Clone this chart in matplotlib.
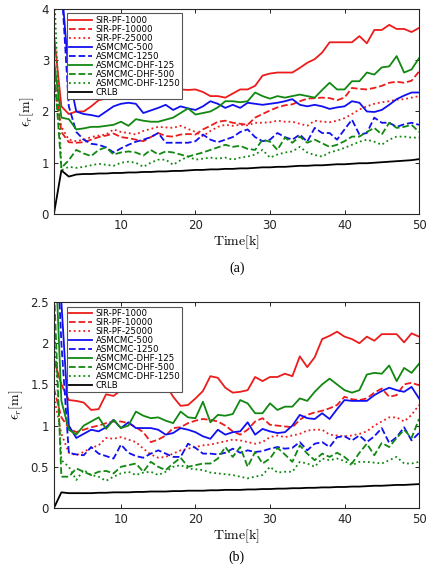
import matplotlib
matplotlib.use("Agg")
import matplotlib.pyplot as plt

plt.rcParams["mathtext.fontset"] = "cm"
plt.rcParams["font.family"] = "DejaVu Sans"

time_k = list(range(1, 51))

labels = ["SIR-PF-1000", "SIR-PF-10000", "SIR-PF-25000",
          "ASMCMC-500", "ASMCMC-1250",
          "ASMCMC-DHF-125", "ASMCMC-DHF-500", "ASMCMC-DHF-1250", "CRLB"]

# ---- panel (a) ----
sir1000_a = [3.5, 2.1, 1.95, 2.0, 2.0, 2.1, 2.22, 2.25, 2.3, 2.35,
             2.35, 2.43, 2.4, 2.38, 2.33, 2.3, 2.27, 2.43, 2.42, 2.43,
             2.38, 2.3, 2.3, 2.27, 2.35, 2.43, 2.43, 2.5, 2.7, 2.74,
             2.76, 2.76, 2.76, 2.85, 2.95, 3.02, 3.15, 3.35, 3.35, 3.35,
             3.35, 3.47, 3.33, 3.59, 3.59, 3.69, 3.61, 3.61, 3.55, 3.63]
sir10000_a = [2.7, 1.6, 1.4, 1.39, 1.4, 1.45, 1.5, 1.53, 1.57, 1.5,
              1.48, 1.45, 1.42, 1.5, 1.58, 1.52, 1.51, 1.55, 1.56, 1.55,
              1.65, 1.72, 1.8, 1.82, 1.78, 1.76, 1.74, 1.88, 1.95, 2.02,
              2.08, 2.12, 2.14, 2.2, 2.25, 2.26, 2.27, 2.26, 2.22, 2.27,
              2.46, 2.44, 2.43, 2.46, 2.5, 2.56, 2.58, 2.56, 2.6, 2.78]
sir25000_a = [2.5, 1.7, 1.45, 1.42, 1.45, 1.5, 1.53, 1.55, 1.65, 1.6,
              1.58, 1.55, 1.62, 1.66, 1.7, 1.69, 1.68, 1.72, 1.66, 1.6,
              1.52, 1.62, 1.7, 1.74, 1.72, 1.74, 1.73, 1.78, 1.78, 1.79,
              1.82, 1.8, 1.8, 1.76, 1.72, 1.82, 1.8, 1.79, 1.82, 1.87,
              1.95, 2.04, 2.1, 2.15, 2.18, 2.2, 2.23, 2.24, 2.27, 2.3]
asm500_a = [6.0, 4.5, 2.7, 2.0, 1.95, 1.93, 1.9, 2.0, 2.1, 2.15,
            2.17, 2.15, 1.97, 2.02, 2.07, 2.13, 2.03, 2.1, 2.06, 2.03,
            2.1, 2.2, 2.15, 2.07, 2.13, 2.07, 2.17, 2.15, 2.13, 2.15,
            2.17, 2.2, 2.24, 2.13, 2.1, 2.13, 2.1, 2.05, 2.08, 2.1,
            2.2, 2.17, 2.0, 1.99, 2.03, 2.13, 2.24, 2.31, 2.37, 2.37]
asm1250_a = [7.0, 4.5, 2.1, 1.6, 1.45, 1.37, 1.35, 1.3, 1.2, 1.28,
             1.35, 1.41, 1.45, 1.5, 1.58, 1.39, 1.39, 1.39, 1.39, 1.42,
             1.55, 1.45, 1.4, 1.45, 1.5, 1.6, 1.65, 1.5, 1.42, 1.45,
             1.58, 1.5, 1.45, 1.55, 1.41, 1.68, 1.58, 1.58, 1.45, 1.65,
             1.84, 1.55, 1.58, 1.88, 1.78, 1.78, 1.7, 1.75, 1.78, 1.74]
dhf125_a = [3.0, 1.88, 1.85, 1.65, 1.67, 1.7, 1.7, 1.72, 1.74, 1.8,
            1.72, 1.85, 1.82, 1.8, 1.8, 1.84, 1.88, 1.97, 2.06, 1.94,
            1.97, 2.0, 2.08, 2.2, 2.2, 2.18, 2.2, 2.37, 2.3, 2.25,
            2.3, 2.27, 2.3, 2.33, 2.3, 2.27, 2.42, 2.56, 2.43, 2.43,
            2.59, 2.59, 2.76, 2.72, 2.86, 2.88, 3.08, 2.76, 2.82, 3.04]
dhf500_a = [2.9, 0.9, 1.05, 1.25, 1.18, 1.13, 1.25, 1.3, 1.16, 1.2,
            1.22, 1.2, 1.14, 1.25, 1.16, 1.22, 1.2, 1.16, 1.12, 1.16,
            1.2, 1.25, 1.3, 1.35, 1.31, 1.33, 1.27, 1.25, 1.45, 1.41,
            1.25, 1.49, 1.39, 1.51, 1.39, 1.45, 1.38, 1.31, 1.35, 1.42,
            1.51, 1.51, 1.6, 1.68, 1.55, 1.78, 1.68, 1.7, 1.74, 1.6]
dhf1250_a = [4.5, 0.85, 0.92, 0.9, 0.92, 0.95, 0.98, 0.96, 0.94, 1.0,
             1.02, 1.0, 0.92, 1.0, 1.06, 1.06, 0.96, 1.05, 1.12, 1.06,
             1.08, 1.1, 1.08, 1.1, 1.06, 1.1, 1.12, 1.16, 1.25, 1.1,
             1.16, 1.2, 1.22, 1.31, 1.2, 1.15, 1.12, 1.2, 1.24, 1.29,
             1.35, 1.41, 1.45, 1.41, 1.35, 1.45, 1.51, 1.51, 1.49, 1.49]
crlb_a = [0.0, 0.85, 0.73, 0.77, 0.78, 0.78, 0.79, 0.79, 0.80, 0.80,
          0.81, 0.81, 0.82, 0.82, 0.83, 0.83, 0.84, 0.84, 0.85, 0.86,
          0.86, 0.87, 0.87, 0.88, 0.88, 0.89, 0.89, 0.90, 0.91, 0.91,
          0.92, 0.92, 0.93, 0.94, 0.94, 0.95, 0.95, 0.96, 0.97, 0.97,
          0.98, 0.99, 0.99, 1.00, 1.01, 1.02, 1.03, 1.04, 1.05, 1.07]

# ---- panel (b) ----
sir1000_b = [1.8, 1.5, 1.31, 1.3, 1.28, 1.19, 1.2, 1.38, 1.36, 1.43,
             1.44, 1.52, 1.48, 1.55, 1.55, 1.5, 1.35, 1.24, 1.25, 1.33,
             1.42, 1.6, 1.58, 1.46, 1.4, 1.41, 1.43, 1.59, 1.54, 1.59,
             1.59, 1.63, 1.6, 1.84, 1.71, 1.83, 2.05, 2.09, 2.14, 2.08,
             2.05, 2.0, 2.08, 2.03, 2.11, 2.11, 2.11, 2.01, 2.12, 2.08]
sir10000_b = [1.45, 1.1, 0.97, 0.92, 0.95, 0.98, 1.0, 1.03, 1.05, 1.05,
              1.03, 0.98, 0.92, 0.8, 0.83, 0.88, 0.97, 0.98, 1.03, 1.06,
              1.08, 1.07, 1.05, 1.0, 0.93, 0.89, 0.95, 1.05, 1.09, 1.01,
              1.0, 0.99, 0.98, 1.07, 1.13, 1.16, 1.18, 1.21, 1.25, 1.35,
              1.32, 1.31, 1.33, 1.4, 1.45, 1.35, 1.37, 1.5, 1.52, 1.49]
sir25000_b = [1.35, 0.9, 0.67, 0.64, 0.68, 0.73, 0.76, 0.85, 0.84, 0.86,
              0.83, 0.8, 0.72, 0.65, 0.61, 0.62, 0.66, 0.7, 0.72, 0.74,
              0.76, 0.77, 0.79, 0.81, 0.83, 0.82, 0.8, 0.78, 0.8, 0.86,
              0.88, 0.86, 0.88, 0.9, 0.94, 0.95, 0.95, 0.89, 0.88, 0.87,
              0.88, 0.9, 0.93, 1.0, 1.05, 1.1, 1.1, 1.05, 1.13, 1.25]
asm500_b = [4.0, 2.5, 1.0, 0.85, 0.9, 0.95, 0.93, 0.98, 1.07, 0.97,
            1.04, 0.97, 0.97, 0.97, 0.95, 0.89, 0.91, 0.97, 0.95, 0.92,
            0.87, 0.84, 0.95, 0.89, 0.92, 0.93, 1.04, 0.89, 0.96, 0.93,
            0.91, 0.92, 1.0, 1.13, 1.09, 1.08, 1.15, 1.08, 1.2, 1.31,
            1.3, 1.3, 1.3, 1.37, 1.42, 1.46, 1.43, 1.41, 1.47, 1.33]
asm1250_b = [4.0, 2.0, 0.67, 0.65, 0.64, 0.74, 0.66, 0.63, 0.6, 0.77,
             0.67, 0.63, 0.61, 0.66, 0.7, 0.66, 0.62, 0.62, 0.78, 0.73,
             0.66, 0.66, 0.65, 0.67, 0.72, 0.67, 0.7, 0.68, 0.69, 0.72,
             0.74, 0.72, 0.73, 0.8, 0.7, 0.78, 0.8, 0.74, 0.86, 0.87,
             0.82, 0.88, 0.8, 0.87, 0.97, 0.79, 0.86, 0.98, 0.82, 0.91]
dhf125_b = [3.5, 1.3, 0.95, 0.89, 1.0, 1.05, 1.1, 0.96, 1.07, 0.97,
            1.0, 1.17, 1.12, 1.09, 1.1, 1.06, 1.03, 1.17, 1.1, 1.09,
            1.29, 1.04, 1.13, 1.12, 1.14, 1.31, 1.27, 1.15, 1.15, 1.27,
            1.19, 1.23, 1.23, 1.33, 1.3, 1.41, 1.5, 1.57, 1.5, 1.43,
            1.4, 1.43, 1.62, 1.64, 1.63, 1.73, 1.54, 1.7, 1.64, 1.75]
dhf500_b = [2.7, 0.38, 0.38, 0.48, 0.44, 0.4, 0.44, 0.45, 0.42, 0.5,
            0.52, 0.54, 0.44, 0.56, 0.5, 0.46, 0.54, 0.61, 0.5, 0.52,
            0.54, 0.54, 0.6, 0.74, 0.62, 0.74, 0.5, 0.68, 0.54, 0.6,
            0.73, 0.65, 0.56, 0.76, 0.66, 0.58, 0.66, 0.62, 0.67, 0.62,
            0.54, 0.67, 0.78, 0.64, 0.79, 0.74, 0.85, 0.95, 0.85, 1.08]
dhf1250_b = [2.25, 0.58, 0.5, 0.34, 0.46, 0.4, 0.38, 0.33, 0.38, 0.42,
             0.44, 0.4, 0.43, 0.44, 0.4, 0.44, 0.5, 0.52, 0.48, 0.47,
             0.46, 0.43, 0.42, 0.41, 0.4, 0.38, 0.36, 0.38, 0.4, 0.5,
             0.43, 0.44, 0.44, 0.56, 0.54, 0.5, 0.6, 0.58, 0.6, 0.57,
             0.52, 0.56, 0.56, 0.55, 0.54, 0.58, 0.62, 0.54, 0.54, 0.56]
crlb_b = [0.0, 0.19, 0.18, 0.18, 0.18, 0.18, 0.185, 0.185, 0.19, 0.19,
          0.19, 0.195, 0.195, 0.2, 0.2, 0.2, 0.205, 0.205, 0.21, 0.21,
          0.21, 0.215, 0.215, 0.22, 0.22, 0.22, 0.225, 0.225, 0.23, 0.23,
          0.235, 0.235, 0.24, 0.24, 0.245, 0.245, 0.25, 0.25, 0.255, 0.255,
          0.26, 0.26, 0.265, 0.27, 0.27, 0.275, 0.28, 0.28, 0.285, 0.29]

red, blue, green = "#ec1c1c", "#1010f0", "#118811"
styles = [(red, "-"), (red, "--"), (red, ":"),
          (blue, "-"), (blue, "--"),
          (green, "-"), (green, "--"), (green, ":"),
          ("black", "-")]

panels = [
    ([sir1000_a, sir10000_a, sir25000_a, asm500_a, asm1250_a,
      dhf125_a, dhf500_a, dhf1250_a, crlb_a], 4, [0, 1, 2, 3, 4],
     ["0", "1", "2", "3", "4"], "(a)"),
    ([sir1000_b, sir10000_b, sir25000_b, asm500_b, asm1250_b,
      dhf125_b, dhf500_b, dhf1250_b, crlb_b], 2.5, [0, 0.5, 1, 1.5, 2, 2.5],
     ["0", "0.5", "1", "1.5", "2", "2.5"], "(b)"),
]

fig = plt.figure(figsize=(4.28, 5.64), dpi=100)
boxes = [[0.126, 0.6206, 0.853, 0.3635], [0.126, 0.0993, 0.853, 0.3652]]
caption_y = [0.525, 0.0]
caption_va = ["center", "bottom"]

for (series, ymax, yt, ytl, cap), box, cy, cva in zip(panels, boxes,
                                                      caption_y, caption_va):
    ax = fig.add_axes(box)
    for vals, (c, ls), lab in zip(series, styles, labels):
        ax.plot(time_k, vals, color=c, linestyle=ls, lw=1.3, label=lab)
    ax.set_xlim(1, 50)
    ax.set_ylim(0, ymax)
    ax.set_xticks([10, 20, 30, 40, 50])
    ax.set_yticks(yt)
    ax.set_yticklabels(ytl)
    ax.tick_params(direction="in", top=True, right=True, labelsize=8.5,
                   labelcolor="#262626", length=3, width=0.6)
    for sp in ax.spines.values():
        sp.set_linewidth(0.8)
        sp.set_color("#262626")
    ax.set_xlabel(r"$\mathrm{Time[k]}$", fontsize=10, labelpad=1)
    ax.set_ylabel(r"$\epsilon_r[\mathrm{m}]$", fontsize=10, labelpad=4)
    leg = ax.legend(loc="upper left", bbox_to_anchor=(0.035, 0.978),
                    fontsize=6.2, handlelength=2.7, labelspacing=0.0,
                    borderpad=0.25, handletextpad=0.4, fancybox=False,
                    framealpha=1, edgecolor="#555555", borderaxespad=0)
    leg.get_frame().set_linewidth(0.8)
    fig.text(0.553, cy, cap, ha="center", va=cva, fontsize=10,
             family="Liberation Serif")

fig.savefig("out.png", dpi=100)
